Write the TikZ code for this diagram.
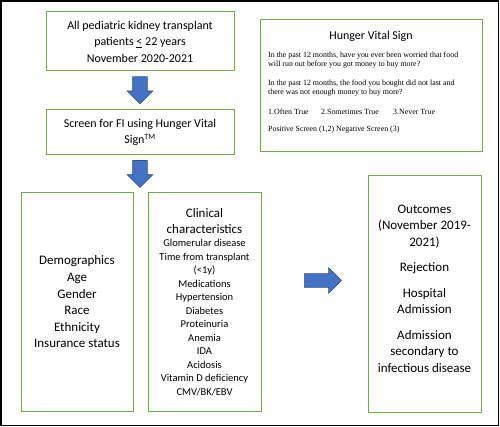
\documentclass[tikz,border=0pt]{standalone}
\usepackage{fontspec}
\setmainfont{Carlito}
\newfontfamily\hvsfont{Liberation Serif}
\usetikzlibrary{
    shapes.arrows,
    positioning
}
\definecolor{boxgreen}{RGB}{112,173,71}
\definecolor{arrowblue}{RGB}{68,114,196}
\definecolor{arrowedge}{RGB}{47,82,143}
\newcommand{\headline}{\fontsize{13}{16}\selectfont}
\tikzset{
    flowbox/.style={
        draw=boxgreen,
        line width=1pt,
        align=center,
        inner sep=2pt,
        font=\fontsize{12}{16.5}\selectfont
    },
    blockarrow/.style={
        single arrow,
        draw=arrowedge,
        fill=arrowblue,
        line width=0.6pt,
        inner xsep=0pt,
        inner ysep=6.5pt,
        minimum width=25pt,
        single arrow head extend=5.5pt
    },
    downarrow/.style={
        blockarrow,
        inner sep=7pt,
        minimum height=27pt,
        shape border rotate=270
    },
    hvstext/.style={
        align=left,
        inner sep=0pt,
        font=\hvsfont\fontsize{7.9}{9}\selectfont
    }
}

\begin{document}
\begin{tikzpicture}[x=1pt, y=-1pt]
        \useasboundingbox (0,0) rectangle (500,427);
        % Outer frame
        \draw [line width=1.5pt] (0.8,0.8) rectangle (498.6,425.6);

        % Patients (cohort)
        \node [flowbox, minimum width=188pt, minimum height=59pt] (patients) at (140,41.5) {
            All pediatric kidney transplant\\
            patients \underline{<} 22 years\\
            November 2020-2021
        };

        % Screening step
        \node [downarrow, below=5pt of patients] (toscreen) {};
        \node [flowbox, minimum width=188pt, minimum height=45pt, below=5pt of toscreen] (screen) {
            Screen for FI using Hunger Vital\\
            Sign\textsuperscript{TM}
        };
        \node [downarrow, below=5pt of screen] (tocohort) {};

        % Hunger Vital Sign questions
        \node [flowbox, minimum width=222pt, minimum height=132pt] (hungersign) at (371,86) {};
        \node [font=\fontsize{12}{14}\selectfont, below=8pt of hungersign.north] (hvstitle) {Hunger Vital Sign};
        \node [hvstext, anchor=north west] (hvsquestions) at (268,52) {
            In the past 12 months, have you ever been worried that food\\
            will run out before you got money to buy more?\\[10pt]
            In the past 12 months, the food you bought did not last and\\
            there was not enough money to buy more?\\[11pt]
            \makebox[53pt][l]{1.Often True}\makebox[72pt][l]{2.Sometimes True}3.Never True\\[8pt]
            Positive Screen (1,2) Negative Screen (3)
        };

        % Demographics
        \node [flowbox, minimum width=112pt, minimum height=218pt, font=\fontsize{13}{16.6}\selectfont] (demographics) at (77,302) {
            Demographics\\
            Age\\
            Gender\\
            Race\\
            Ethnicity\\
            Insurance status
        };

        % Clinical characteristics
        \node [flowbox, minimum width=113pt, minimum height=219pt, font=\fontsize{10.5}{13.5}\selectfont, right=14pt of demographics] (clinical) {
            \headline Clinical\\[2.5pt]
            \headline characteristics\\
            Glomerular disease\\
            Time from transplant\\
            (\textless1y)\\
            Medications\\
            Hypertension\\
            Diabetes\\
            Proteinuria\\
            Anemia\\
            IDA\\
            Acidosis\\
            Vitamin D deficiency\\
            CMV/BK/EBV
        };

        % Outcomes
        \node [flowbox, minimum width=113pt, minimum height=236pt, font=\fontsize{13}{16.5}\selectfont] (outcomes) at (424.5,294) {
            Outcomes\\
            (November 2019-\\
            2021)\\[9pt]
            Rejection\\[9pt]
            Hospital\\
            Admission\\[9pt]
            Admission\\
            secondary to\\
            infectious disease\\[-6pt]
        };
        \node [blockarrow, minimum height=37pt, single arrow head extend=6pt] (tooutcomes) at (319.5,280.5) {};
\end{tikzpicture}
\end{document}
